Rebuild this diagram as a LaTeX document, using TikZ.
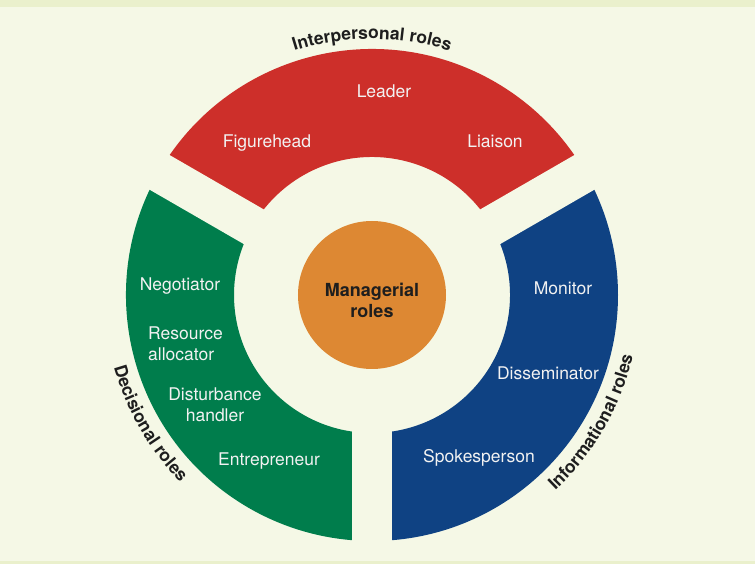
\documentclass[tikz,border=0pt]{standalone}
\usepackage{fontspec}
\setmainfont{TeX Gyre Heros}
\usetikzlibrary{decorations.text}

\definecolor{paper}{RGB}{245,248,230}
\definecolor{band}{RGB}{234,240,204}
\definecolor{interred}{RGB}{205,47,42}
\definecolor{decgreen}{RGB}{0,125,76}
\definecolor{infoblue}{RGB}{15,66,131}
\definecolor{hubor}{RGB}{221,136,51}
\definecolor{ink}{RGB}{30,30,30}
\newcommand{\arcfont}{\fontsize{17.5}{20}\selectfont\bfseries}

\begin{document}
\begin{tikzpicture}[x=1pt, y=1pt,
    role/.style={text=white!95!black, font=\fontsize{17.5}{21}\selectfont, inner sep=0pt},
    hub/.style={circle, fill=hubor, minimum size=148pt, inner sep=0pt},
    hubtext/.style={text=ink, font=\fontsize{18}{21}\selectfont\bfseries, align=center, inner sep=0pt},
    gap/.style={fill=paper}]
    \fill[paper] (-372,-269) rectangle (383,295);
    \useasboundingbox (-372,-269) rectangle (383,295);
    \fill[band] (-372,288) rectangle (383,295);
    \fill[band] (-372,-269) rectangle (383,-266);

    % ring segments
    \fill[interred] (150:246) arc[start angle=150, end angle=30, radius=246]
        -- (30:138) arc[start angle=30, end angle=150, radius=138] -- cycle;
    \fill[decgreen] (150:246) arc[start angle=150, end angle=270, radius=246]
        -- (270:138) arc[start angle=270, end angle=150, radius=138] -- cycle;
    \fill[infoblue] (270:246) arc[start angle=270, end angle=390, radius=246]
        -- (30:138) arc[start angle=30, end angle=-90, radius=138] -- cycle;

    % gaps between segments
    \fill[gap] (-20,0) rectangle (20,-260);
    \foreach \a in {30,150} {
        \fill[gap, rotate=\a] (0,-20) rectangle (260,20);
    }

    \node[hub] (hub) at (0,0) {};
    \node[hubtext] (hubtext) at (0,-5) {Managerial\\roles};

    \node[role, anchor=base] (leader) at (12,197) {Leader};
    \node[role, anchor=base] (figurehead) at (-105,147) {Figurehead};
    \node[role, anchor=base] (liaison) at (123,147) {Liaison};

    \node[role, anchor=base] (negotiator) at (-192,4) {Negotiator};
    \node[role, anchor=west, align=left] (allocator) at (-224,-49) {Resource\\allocator};
    \node[role, align=center] (disturbance) at (-157,-110) {Disturbance\\handler};
    \node[role, anchor=base] (entrepreneur) at (-103,-171) {Entrepreneur};

    \node[role, anchor=base] (monitor) at (191,0) {Monitor};
    \node[role, anchor=base] (disseminator) at (176,-85) {Disseminator};
    \node[role, anchor=base] (spokesperson) at (107,-168) {Spokesperson};

    % curved group titles
    \path[decorate, decoration={text along path, text align=center,
        text={|\arcfont\color{ink}|Interpersonal roles}}]
        (130:256) arc[start angle=130, end angle=50, radius=256];
    \path[decorate, decoration={text along path, text align=center,
        text={|\arcfont\color{ink}|Decisional roles}}]
        (180:268) arc[start angle=180, end angle=240, radius=268];
    \path[decorate, decoration={text along path, text align=center,
        text={|\arcfont\color{ink}|Informational roles}}]
        (-60:268) arc[start angle=-60, end angle=0, radius=268];
\end{tikzpicture}
\end{document}
